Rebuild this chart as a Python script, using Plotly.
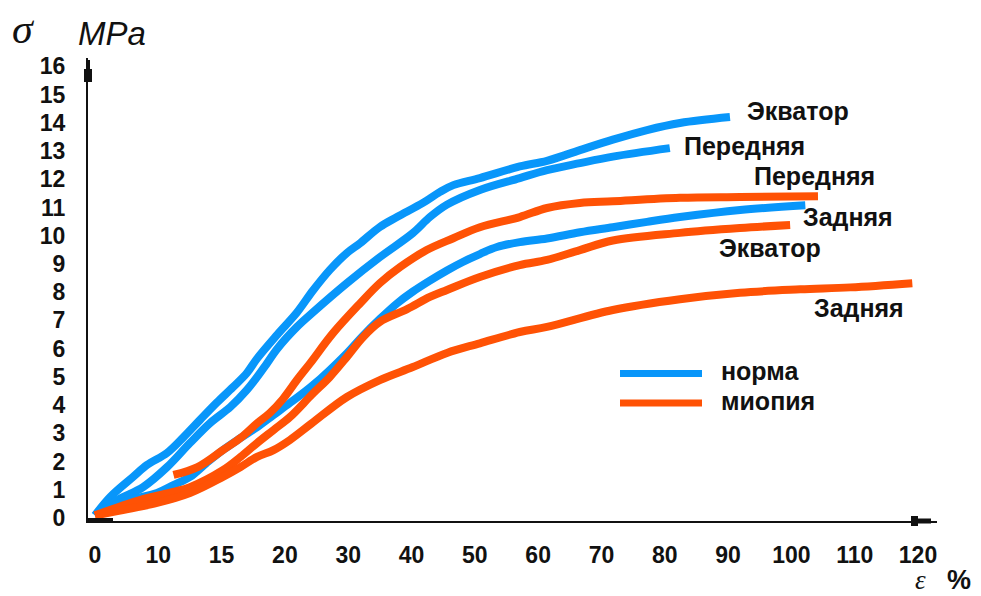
import numpy as np
import plotly.graph_objects as go

# Strain axis: evenly spaced tick positions carrying these labels (%)
TICK_LABELS = [0, 10, 15, 20, 30, 40, 50, 60, 70, 80, 90, 100, 110, 120]
Y_TICKS = list(range(0, 17))

# Stress-strain curves: strain (%) and stress (MPa)
norm_equator_eps = [0, 2.4, 6.0, 8.2, 10.7, 12.0, 13.3, 14.6, 15.9, 17.0, 17.8, 19.4, 21.9, 24.4,
                    27.1, 29.8, 31.9, 35.0, 37.7, 41.8, 44.5, 46.6, 50.8, 57.1, 61.4, 66.6, 71.8,
                    77.2, 82.4, 90.3]
norm_equator_sig = [0.1, 0.75, 1.46, 1.88, 2.31, 2.87, 3.48, 4.08, 4.64, 5.14, 5.65, 6.5, 7.28, 8.05,
                    8.79, 9.39, 9.74, 10.31, 10.66, 11.16, 11.55, 11.79, 12.04, 12.45, 12.65, 13.03,
                    13.4, 13.74, 13.99, 14.2]

norm_front_eps = [0, 3.5, 7.6, 10.7, 12.5, 14.1, 15.7, 17.0, 18.3, 19.4, 21.9, 24.4, 29.8, 35.0,
                  40.2, 42.9, 45.6, 50.8, 57.1, 61.4, 66.6, 71.8, 80.8]
norm_front_sig = [0.1, 0.64, 1.1, 1.81, 2.66, 3.37, 3.94, 4.54, 5.3, 6.0, 6.77, 7.28, 8.32, 9.24,
                  10.09, 10.66, 11.1, 11.62, 12.04, 12.32, 12.57, 12.8, 13.1]

norm_back_eps = [0, 4.4, 9.8, 11.2, 12.5, 13.8, 15.1, 16.5, 17.8, 19.1, 20.8, 24.4, 29.8, 32.3,
                 35.0, 37.7, 40.2, 42.9, 45.6, 48.1, 50.8, 53.5, 57.1, 61.4, 66.6, 71.8, 77.2,
                 82.4, 91.9, 102.2]
norm_back_sig = [0.1, 0.57, 0.89, 1.17, 1.46, 1.95, 2.41, 2.84, 3.22, 3.65, 4.08, 4.7, 5.84, 6.45,
                 7.05, 7.6, 8.02, 8.41, 8.77, 9.07, 9.35, 9.6, 9.77, 9.9, 10.12, 10.3, 10.49,
                 10.66, 10.91, 11.08]

myop_front_eps = [11.2, 13.1, 15.1, 16.5, 17.8, 18.8, 19.85, 21.9, 24.0, 27.6, 31.9, 35.0, 38.2,
                  42.4, 46.6, 50.8, 57.1, 61.4, 66.6, 71.8, 82.4, 91.9, 104.2]
myop_front_sig = [1.53, 1.81, 2.41, 2.84, 3.36, 3.72, 4.22, 4.89, 5.49, 6.55, 7.61, 8.32, 8.89,
                  9.49, 9.91, 10.3, 10.66, 10.98, 11.16, 11.22, 11.34, 11.37, 11.4]

myop_equator_eps = [0, 7.1, 11.2, 12.5, 15.1, 16.5, 17.8, 19.1, 20.8, 24.2, 27.1, 29.8, 32.3, 35.0,
                    39.3, 42.9, 45.6, 50.8, 57.1, 61.4, 66.6, 71.8, 82.4, 91.9, 99.8]
myop_equator_sig = [0.1, 0.64, 0.93, 1.1, 1.7, 2.17, 2.66, 3.12, 3.58, 4.36, 5.0, 5.71, 6.4, 6.95,
                    7.4, 7.83, 8.08, 8.54, 8.96, 9.14, 9.49, 9.83, 10.1, 10.27, 10.38]

myop_back_eps = [0, 4.4, 9.8, 12.5, 15.1, 16.5, 17.8, 19.1, 20.8, 24.2, 29.8, 35.0, 40.2, 45.6,
                 50.8, 57.1, 61.4, 71.8, 82.4, 91.9, 101.4, 109.3, 119.1]
myop_back_sig = [0.1, 0.29, 0.54, 0.89, 1.46, 1.81, 2.17, 2.41, 2.77, 3.35, 4.29, 4.89, 5.35, 5.85,
                 6.19, 6.59, 6.77, 7.37, 7.75, 7.98, 8.1, 8.17, 8.32]

BLUE = "#0896FA"
ORANGE = "#FF5205"
FONT = "Liberation Sans"

tick_pos = np.arange(len(TICK_LABELS))


def to_axis(eps):
    """Map strain (%) onto the evenly spaced tick positions."""
    return np.interp(eps, TICK_LABELS, tick_pos)


# (name, eps, sigma, colour, label, xshift, yshift)
curves = [
    ("norm_equator", norm_equator_eps, norm_equator_sig, BLUE, "Экватор", 15, 6),
    ("norm_front", norm_front_eps, norm_front_sig, BLUE, "Передняя", 12, 2),
    ("norm_back", norm_back_eps, norm_back_sig, BLUE, "Задняя", -4, -12),
    ("myop_front", myop_front_eps, myop_front_sig, ORANGE, "Передняя", -66, 20),
    ("myop_equator", myop_equator_eps, myop_equator_sig, ORANGE, "Экватор", -73, -23),
    ("myop_back", myop_back_eps, myop_back_sig, ORANGE, "Задняя", -100, -25),
]

fig = go.Figure()
annotations = []
for name, eps, sig, color, label, dx, dy in curves:
    xs = to_axis(eps)
    fig.add_trace(go.Scatter(
        x=xs, y=sig, mode="lines", name=name,
        line=dict(color=color, width=8, shape="spline", smoothing=1.0),
        showlegend=False, hoverinfo="skip",
    ))
    annotations.append(dict(
        x=xs[-1], y=sig[-1], xref="x", yref="y", text=label,
        xanchor="left", yanchor="middle", xshift=dx, yshift=dy,
        showarrow=False, font=dict(family=FONT, size=25, color="#111", weight="bold"),
    ))

W, H = 981, 596
ML, MR, MT, MB = 88, 44, 58, 75
PW, PH = W - ML - MR, H - MT - MB


def px(x):
    return (x - ML) / PW


def py(y):
    return (H - MB - y) / PH


def poly(points):
    return "M " + " L ".join(f"{px(a):.5f},{py(b):.5f}" for a, b in points) + " Z"


shapes = [
    # arrow heads on both axes
    dict(type="path", xref="paper", yref="paper", fillcolor="#111", line=dict(width=0),
         path=poly([(86, 60), (90, 60), (90, 69), (92, 69), (92, 82), (84, 82), (84, 69), (86, 69)])),
    dict(type="path", xref="paper", yref="paper", fillcolor="#111", line=dict(width=0),
         path=poly([(911, 516), (918, 516), (918, 518.5), (931, 518.5), (931, 523.5),
                    (918, 523.5), (918, 526), (911, 526)])),
    # short thick stub at the origin
    dict(type="rect", xref="paper", yref="paper", fillcolor="#111", line=dict(width=0),
         x0=px(87), x1=px(113), y0=py(522), y1=py(518)),
    # legend strokes
    dict(type="line", xref="paper", yref="paper", x0=px(620), x1=px(702), y0=py(373.5), y1=py(373.5),
         line=dict(color=BLUE, width=7)),
    dict(type="line", xref="paper", yref="paper", x0=px(620), x1=px(702), y0=py(403), y1=py(403),
         line=dict(color=ORANGE, width=7)),
]

legend_font = dict(family=FONT, size=25, color="#111", weight="bold")
annotations += [
    dict(x=px(719), y=py(371), xref="paper", yref="paper", text="норма", showarrow=False,
         xanchor="left", yanchor="middle", font=legend_font),
    dict(x=px(719), y=py(401), xref="paper", yref="paper", text="миопия", showarrow=False,
         xanchor="left", yanchor="middle", font=legend_font),
    dict(x=px(10), y=py(29), xref="paper", yref="paper", text="<i>σ</i>", showarrow=False,
         xanchor="left", yanchor="middle", font=dict(family="Liberation Serif", size=42, color="#111")),
    dict(x=px(76), y=py(34), xref="paper", yref="paper", text="<i>MPa</i>", showarrow=False,
         xanchor="left", yanchor="middle", font=dict(family=FONT, size=33, color="#111")),
    dict(x=px(913), y=py(580), xref="paper", yref="paper", text="<i>ε</i>", showarrow=False,
         xanchor="left", yanchor="middle", font=dict(family="Liberation Serif", size=27, color="#111")),
    dict(x=px(945), y=py(580), xref="paper", yref="paper", text="%", showarrow=False,
         xanchor="left", yanchor="middle", font=dict(family=FONT, size=27, color="#111", weight="bold")),
]

tick_font = dict(family=FONT, size=23, color="#111", weight="bold")
fig.update_layout(
    width=W, height=H,
    margin=dict(l=ML, r=MR, t=MT, b=MB, pad=0),
    paper_bgcolor="white", plot_bgcolor="white",
    xaxis=dict(range=[-0.11, 13.30], tickvals=tick_pos, ticktext=[str(v) for v in TICK_LABELS],
               showgrid=False, zeroline=False, showline=True, linecolor="#111", linewidth=2,
               ticks="", tickfont=tick_font, ticklabelstandoff=12, fixedrange=True),
    yaxis=dict(range=[-0.1, 16.29], tickvals=Y_TICKS, showgrid=False, zeroline=False,
               showline=True, linecolor="#111", linewidth=2, ticks="", tickfont=tick_font,
               ticklabelstandoff=16, fixedrange=True),
    shapes=shapes,
    annotations=annotations,
    showlegend=False,
)

fig.write_html("out.html")
